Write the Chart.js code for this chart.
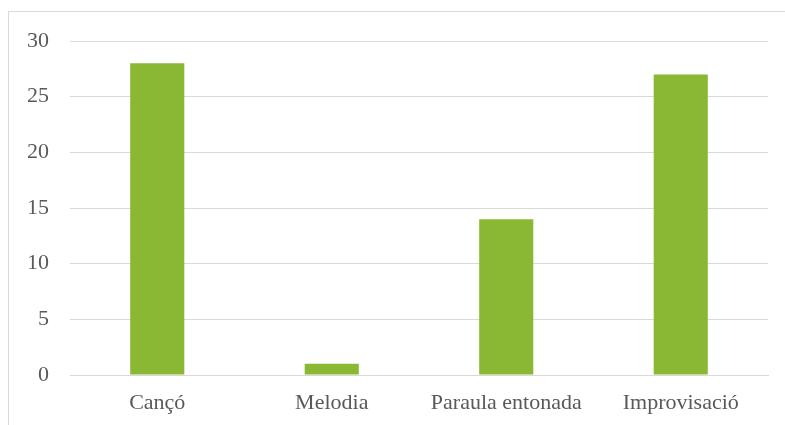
<!DOCTYPE html>
<html>
<head>
<meta charset="utf-8">
<script src="https://cdn.jsdelivr.net/npm/chart.js@4"></script>
<style>
  html, body { margin: 0; padding: 0; background: #fff; }
  #wrap { position: relative; width: 785px; height: 425px; overflow: hidden; }
  #frame { position: absolute; left: 8px; top: 11px; width: 900px; height: 500px; border: 1px solid #d9d9d9; }
  #chart { position: absolute; left: 0; top: 0; }
</style>
</head>
<body>
<div id="wrap">
  <div id="frame"></div>
  <canvas id="chart" width="785" height="425"></canvas>
</div>
<script>
const categories = ['Cançó', 'Melodia', 'Paraula entonada', 'Improvisació'];
const values = [28, 1, 14, 27];
const yTicks = [0, 5, 10, 15, 20, 25, 30];

document.addEventListener('DOMContentLoaded', () => {
  const el = document.getElementById('chart');
  const font = { family: '"Liberation Serif", "DejaVu Serif", serif', size: 22 };
  new Chart(el.getContext('2d'), {
    type: 'bar',
    data: {
      labels: categories,
      datasets: [{ data: values, backgroundColor: '#8ab833', barPercentage: 0.62, categoryPercentage: 0.5 }]
    },
    options: {
      responsive: false,
      animation: false,
      layout: { padding: { top: 41, right: 17, left: 0, bottom: 0 } },
      plugins: { legend: { display: false }, tooltip: { enabled: false } },
      scales: {
        x: {
          grid: { display: false, drawTicks: false },
          border: { color: '#d9d9d9', width: 1 },
          ticks: { color: '#595959', font, padding: 15, maxRotation: 0 },
          afterFit: s => { s.height = 50; }
        },
        y: {
          min: 0, max: 30,
          afterBuildTicks: s => { s.ticks = yTicks.map(v => ({ value: v })); },
          grid: { color: '#d9d9d9', drawTicks: false },
          border: { display: false },
          ticks: { color: '#595959', font, padding: 21 },
          afterFit: s => { s.width = 70; }
        }
      }
    }
  });
});
</script>
</body>
</html>
